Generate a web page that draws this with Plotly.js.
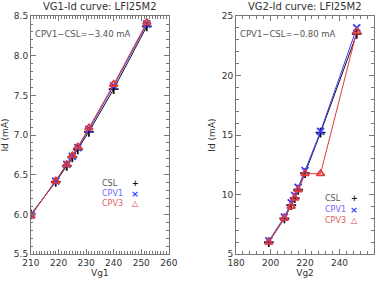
<!DOCTYPE html>
<html><head><meta charset="utf-8">
<script src="https://cdn.plot.ly/plotly-3.0.1.min.js"></script>
<style>html,body{margin:0;padding:0;background:#fff}#c{width:382px;height:282px}</style>
</head><body><div id="c"></div>
<script>
const vg1 = [210, 219, 223, 225, 227, 231, 240, 252];
const id1_csl = [6.00, 6.41, 6.61, 6.72, 6.82, 7.04, 7.58, 8.37];
const id1_cpv1 = [5.99, 6.42, 6.63, 6.73, 6.84, 7.07, 7.62, 8.40];
const id1_cpv3 = [5.98, 6.42, 6.63, 6.74, 6.85, 7.09, 7.64, 8.42];

const vg2 = [199, 208, 212, 214, 216, 220, 229, 250];
const id2_csl = [6.0, 8.0, 9.1, 9.7, 10.4, 11.8, 15.2, 23.5];
const id2_cpv1 = [6.1, 8.1, 9.3, 9.9, 10.6, 12.0, 15.3, 24.0];
const id2_cpv3 = [6.0, 8.0, 9.0, 9.7, 10.4, 11.75, 11.75, 23.7];

const seriesNames = ['CSL', 'CPV1', 'CPV3'];
const titles = ['VG1-Id curve: LFI25M2', 'VG2-Id curve: LFI25M2'];
const notes = ['CPV1\u2212CSL=\u22123.40 mA', 'CPV1\u2212CSL=\u22120.80 mA'];

const colors = ['#111111', '#3a3aff', '#e03a3a'];
const textColors = ['#555555', '#6a6aff', '#e06060'];
const syms = ['cross-thin', 'x-thin', 'triangle-up-open'];
const glyphs = ['+', '\u00d7', '\u25b3'];
const font = {family: 'DejaVu Sans, sans-serif', size: 9, color: '#333'};

function tr(x, y, i, ax) {
  return {x: x, y: y, type: 'scatter', mode: 'lines+markers', xaxis: 'x' + ax, yaxis: 'y' + ax,
    line: {color: colors[i], width: 1},
    marker: {symbol: syms[i], size: 7, color: colors[i], line: {color: colors[i], width: 1.8}},
    showlegend: false, name: seriesNames[i]};
}
const data = [
  tr(vg1, id1_csl, 0, ''), tr(vg1, id1_cpv1, 1, ''), tr(vg1, id1_cpv3, 2, ''),
  tr(vg2, id2_csl, 0, '2'), tr(vg2, id2_cpv1, 1, '2'), tr(vg2, id2_cpv3, 2, '2')
];

function axis(dom, range, dtick, minor, anchor) {
  return {domain: dom, range: range, dtick: dtick, tick0: range[0], anchor: anchor,
    showgrid: false, zeroline: false, showline: true, linecolor: '#777', linewidth: 1,
    mirror: 'allticks', ticks: 'inside', ticklen: 5, tickcolor: '#777',
    minor: {dtick: minor, ticks: 'inside', ticklen: 2.5, tickcolor: '#777', showgrid: false},
    tickfont: font};
}
const yd = [0.0993, 0.943];
const d1 = [0.081, 0.442], d2 = [0.618, 0.979];
const layout = {
  width: 382, height: 282, margin: {l: 0, r: 0, t: 0, b: 0},
  paper_bgcolor: '#fff', plot_bgcolor: '#fff', showlegend: false,
  xaxis: Object.assign(axis(d1, [210, 260], 10, 1, 'y'), {title: {text: 'Vg1', font: font, standoff: 2}}),
  yaxis: Object.assign(axis(yd, [5.5, 8.5], 0.5, 0.1, 'x'), {tickformat: '.1f', title: {text: 'Id (mA)', font: font, standoff: 4}}),
  xaxis2: Object.assign(axis(d2, [180, 260], 20, 4, 'y2'), {title: {text: 'Vg2', font: font, standoff: 2}}),
  yaxis2: Object.assign(axis(yd, [5, 25], 5, 1, 'x2'), {title: {text: 'Id (mA)', font: font, standoff: 4}}),
  annotations: []
};
const ann = layout.annotations;
function add(text, px, py, xa, size, color) {
  ann.push({text: text, x: px/382, y: 1 - py/282, xref: 'paper', yref: 'paper', xanchor: xa, yanchor: 'middle',
    showarrow: false, font: {family: font.family, size: size, color: color}});
}
add(titles[0], 100, 7, 'center', 10, '#333');
add(titles[1], 305, 7, 'center', 10, '#333');
add(notes[0], 33, 34, 'left', 8.5, '#555');
add(notes[1], 238, 34, 'left', 8.5, '#555');
const leg = [{tx: 100, sx: 135, ys: [183, 193, 203]}, {tx: 323, sx: 354, ys: [198, 209, 220]}];
leg.forEach(function (L) {
  for (let i = 0; i < 3; i++) {
    add(seriesNames[i], L.tx, L.ys[i], 'left', 8, textColors[i]);
    add('<b>' + glyphs[i] + '</b>', L.sx, L.ys[i], 'center', i === 1 ? 9.5 : 8, colors[i]);
  }
});
Plotly.newPlot('c', data, layout, {staticPlot: true});
</script></body></html>
